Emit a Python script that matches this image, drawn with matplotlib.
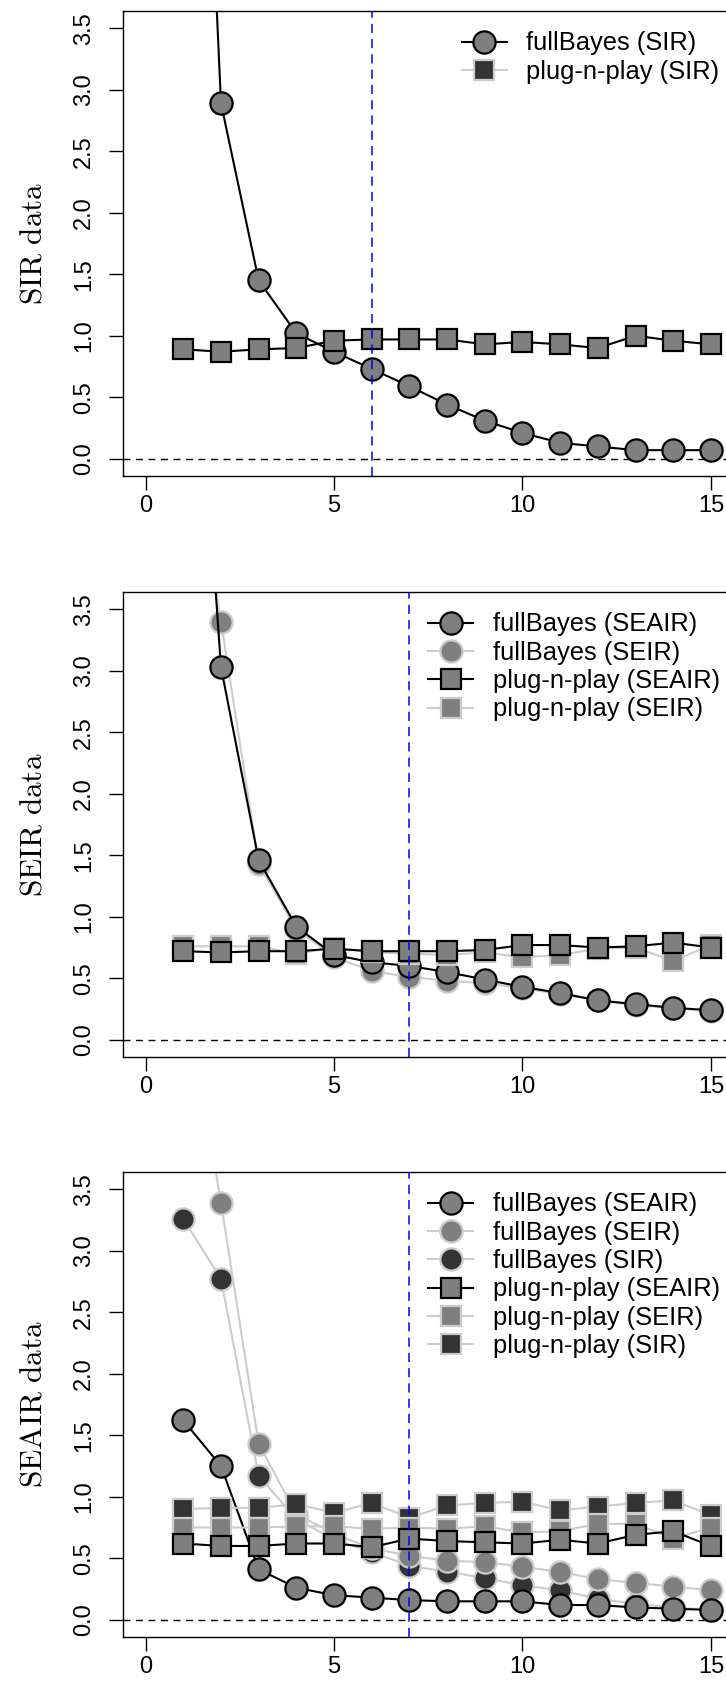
import matplotlib
matplotlib.use("Agg")
import matplotlib.pyplot as plt
from matplotlib.lines import Line2D

plt.rcParams['font.family'] = ['Liberation Sans', 'DejaVu Sans']
plt.rcParams['mathtext.fontset'] = 'cm'

# horizon index
steps = list(range(1, 16))

# SIR data panel
sir_full_sir = [9.7, 2.89, 1.45, 1.02, 0.87, 0.73, 0.59, 0.44, 0.31, 0.21, 0.13, 0.10, 0.07, 0.07, 0.07]
sir_pnp_sir = [0.89, 0.87, 0.89, 0.90, 0.96, 0.97, 0.97, 0.97, 0.93, 0.95, 0.93, 0.90, 1.00, 0.96, 0.93]

# SEIR data panel
seir_full_seair = [7.4, 3.03, 1.46, 0.92, 0.69, 0.63, 0.60, 0.55, 0.49, 0.43, 0.38, 0.32, 0.29, 0.26, 0.24]
seir_full_seir = [5.2, 3.40, 1.43, 0.90, 0.67, 0.56, 0.51, 0.48, 0.46, 0.42, 0.37, 0.32, 0.28, 0.26, 0.23]
seir_pnp_seair = [0.72, 0.71, 0.72, 0.72, 0.74, 0.72, 0.72, 0.72, 0.73, 0.77, 0.77, 0.75, 0.76, 0.79, 0.75]
seir_pnp_seir = [0.76, 0.76, 0.76, 0.70, 0.75, 0.71, 0.70, 0.69, 0.71, 0.67, 0.69, 0.74, 0.75, 0.64, 0.77]

# SEAIR data panel
seair_full_seair = [1.62, 1.25, 0.41, 0.26, 0.20, 0.18, 0.16, 0.15, 0.15, 0.15, 0.12, 0.12, 0.10, 0.09, 0.08]
seair_full_seir = [5.2, 3.39, 1.43, 0.86, 0.70, 0.58, 0.52, 0.48, 0.47, 0.43, 0.39, 0.33, 0.30, 0.27, 0.24]
seair_full_sir = [3.26, 2.77, 1.17, 0.82, 0.65, 0.55, 0.44, 0.39, 0.34, 0.28, 0.24, 0.17, 0.13, 0.10, 0.08]
seair_pnp_seair = [0.62, 0.60, 0.60, 0.62, 0.62, 0.59, 0.66, 0.64, 0.63, 0.62, 0.65, 0.62, 0.69, 0.72, 0.60]
seair_pnp_seir = [0.75, 0.75, 0.75, 0.76, 0.76, 0.74, 0.75, 0.74, 0.76, 0.71, 0.72, 0.78, 0.78, 0.66, 0.75]
seair_pnp_sir = [0.90, 0.91, 0.91, 0.94, 0.87, 0.95, 0.83, 0.93, 0.95, 0.96, 0.89, 0.92, 0.95, 0.97, 0.85]

x_ticks = [0, 5, 10, 15]
y_ticks = [0.0, 0.5, 1.0, 1.5, 2.0, 2.5, 3.0, 3.5]
y_labels = ["SIR data", "SEIR data", "SEAIR data"]
cutoffs = [6, 7, 7]

GREY50 = "#7f7f7f"
GREY20 = "#333333"
GREY80 = "#cccccc"

# marker / colour per (method, model) as in the legend
styles = {
    ("fullBayes", "SEAIR"): dict(marker="o", mfc=GREY50, mec="black", color="black"),
    ("fullBayes", "SEIR"): dict(marker="o", mfc=GREY50, mec=GREY80, color=GREY80),
    ("fullBayes", "SIR"): dict(marker="o", mfc=GREY20, mec=GREY80, color=GREY80),
    ("plug-n-play", "SEAIR"): dict(marker="s", mfc=GREY50, mec="black", color="black"),
    ("plug-n-play", "SEIR"): dict(marker="s", mfc=GREY50, mec=GREY80, color=GREY80),
    ("plug-n-play", "SIR"): dict(marker="s", mfc=GREY20, mec=GREY80, color=GREY80),
}
black_circle = styles[("fullBayes", "SEAIR")]
black_square = styles[("plug-n-play", "SEAIR")]

# series in drawing order; legend order listed separately
panels = [
    dict(series=[(sir_full_sir, black_circle), (sir_pnp_sir, black_square)],
         legend=[("fullBayes", "SIR", black_circle), ("plug-n-play", "SIR", styles[("plug-n-play", "SIR")])],
         leg_x=0.555),
    dict(series=[(seir_full_seir, styles[("fullBayes", "SEIR")]),
                 (seir_full_seair, black_circle),
                 (seir_pnp_seir, styles[("plug-n-play", "SEIR")]),
                 (seir_pnp_seair, black_square)],
         legend=[("fullBayes", "SEAIR", black_circle), ("fullBayes", "SEIR", styles[("fullBayes", "SEIR")]),
                 ("plug-n-play", "SEAIR", black_square), ("plug-n-play", "SEIR", styles[("plug-n-play", "SEIR")])],
         leg_x=0.50),
    dict(series=[(seair_full_sir, styles[("fullBayes", "SIR")]),
                 (seair_full_seir, styles[("fullBayes", "SEIR")]),
                 (seair_full_seair, black_circle),
                 (seair_pnp_sir, styles[("plug-n-play", "SIR")]),
                 (seair_pnp_seir, styles[("plug-n-play", "SEIR")]),
                 (seair_pnp_seair, black_square)],
         legend=[(m, mod, styles[(m, mod)]) for m in ["fullBayes", "plug-n-play"] for mod in ["SEAIR", "SEIR", "SIR"]],
         leg_x=0.50),
]

W, H = 726, 1693
fig = plt.figure(figsize=(W / 100, H / 100), dpi=100)

ax_left, ax_width, ax_height = 123, 610.5, 465
tops = [11, 592, 1172]
FS = 17
LEG_FS = 18.4

for i, panel in enumerate(panels):
    top = tops[i]
    ax = fig.add_axes([ax_left / W, 1 - (top + ax_height) / H, ax_width / W, ax_height / H])

    for values, st in panel["series"]:
        ms = 16 if st["marker"] == "o" else 14.5
        ax.plot(steps, values, color=st["color"], lw=1.5, marker=st["marker"], ms=ms,
                mfc=st["mfc"], mec=st["mec"], mew=1.6, zorder=2)

    ax.axhline(0, color="black", lw=1.0, ls=(0, (5, 4)), zorder=1)
    ax.axvline(cutoffs[i], color="blue", lw=1.1, ls=(0, (6, 4)), zorder=3)

    ax.set_xlim(-0.6, 15.6)
    ax.set_ylim(-0.14, 3.64)
    ax.set_xticks(x_ticks)
    ax.set_yticks(y_ticks)
    ax.set_yticklabels([f"{v:.1f}" for v in y_ticks], rotation=90, va="center")
    ax.tick_params(axis="both", direction="out", length=10, width=1, labelsize=FS)
    ax.tick_params(axis="x", pad=4)
    ax.tick_params(axis="y", pad=10)
    for sp in ax.spines.values():
        sp.set_linewidth(1.0)

    ax.set_ylabel(r"$\mathrm{" + y_labels[i].replace(" ", r"\ ") + "}$", fontsize=22.5, labelpad=18)

    handles = []
    for method, model, st in panel["legend"]:
        ms = 16 if st["marker"] == "o" else 14.5
        handles.append(Line2D([], [], color=st["color"], lw=1.5, marker=st["marker"], ms=ms,
                              mfc=st["mfc"], mec=st["mec"], mew=1.6, label=f"{method} ({model})"))
    ax.legend(handles=handles, loc="upper left", bbox_to_anchor=(panel["leg_x"], 0.956),
              frameon=False, fontsize=LEG_FS, handlelength=1.75, handletextpad=0.78,
              labelspacing=0.17, borderpad=0, borderaxespad=0)

fig.savefig("out.png", dpi=100)
